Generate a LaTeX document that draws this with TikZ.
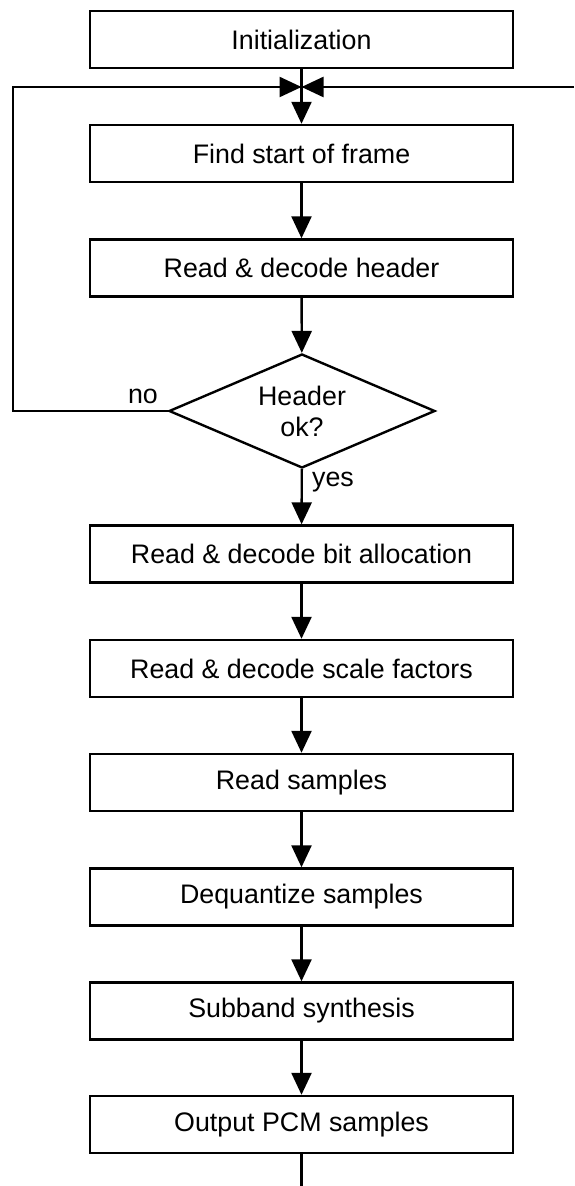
\documentclass[tikz,border=0pt]{standalone}
\usepackage{fontspec}
\setmainfont{Liberation Sans}
\usetikzlibrary{arrows.meta,shapes.geometric}

\begin{document}
\begin{tikzpicture}[x=0.5pt,y=-0.5pt,
    font=\fontsize{13.4}{15.5}\selectfont,
    stepbox/.style={draw, line width=1.2pt, minimum width=211.5pt, minimum height=28.5pt, inner sep=0pt},
    testbox/.style={draw, diamond, aspect=2.33, line width=1.2pt, minimum width=133pt, minimum height=57pt, inner sep=0pt, align=center},
    flow/.style={line width=1.2pt, -{Triangle[length=11pt,width=10pt]}},
    plain/.style={line width=1.2pt}]
    \useasboundingbox (0,0) rectangle (574,1186);

    % Draw the steps
    \node[stepbox] (init) at (301.5,39.5) {Initialization};
    \node[stepbox] (sync) at (301.5,153.5) {Find start of frame};
    \node[stepbox] (header) at (301.5,268) {Read \& decode header};
    \node[testbox] (check) at (302,411) {Header\\ok?};
    \node[stepbox] (alloc) at (301.5,554) {Read \& decode bit allocation};
    \node[stepbox] (scf) at (301.5,668.5) {Read \& decode scale factors};
    \node[stepbox] (samples) at (301.5,782.5) {Read samples};
    \node[stepbox] (dequant) at (301.5,897) {Dequantize samples};
    \node[stepbox] (synth) at (301.5,1011) {Subband synthesis};
    \node[stepbox] (pcm) at (301.5,1124.5) {Output PCM samples};

    % Labels
    \node (no) at (143,396) {no};
    \node (yes) at (333,482) {yes};

    % Loop points
    \coordinate (join) at (301.5,87);
    \coordinate (loopL) at (13,87);
    \coordinate (back) at (574,87);
    \coordinate (out) at (301.5,1186);

    % Arrows
    \draw[flow] (init) -- (sync);
    \draw[flow] (sync) -- (header);
    \draw[flow] (header) -- (check);
    \draw[flow] (check) -- (alloc);
    \draw[flow] (alloc) -- (scf);
    \draw[flow] (scf) -- (samples);
    \draw[flow] (samples) -- (dequant);
    \draw[flow] (dequant) -- (synth);
    \draw[flow] (synth) -- (pcm);
    \draw[plain] (pcm) -- (out);
    \draw[flow] (check.west) -| (loopL) -- (join);
    \draw[flow] (back) -- (join);
\end{tikzpicture}
\end{document}
